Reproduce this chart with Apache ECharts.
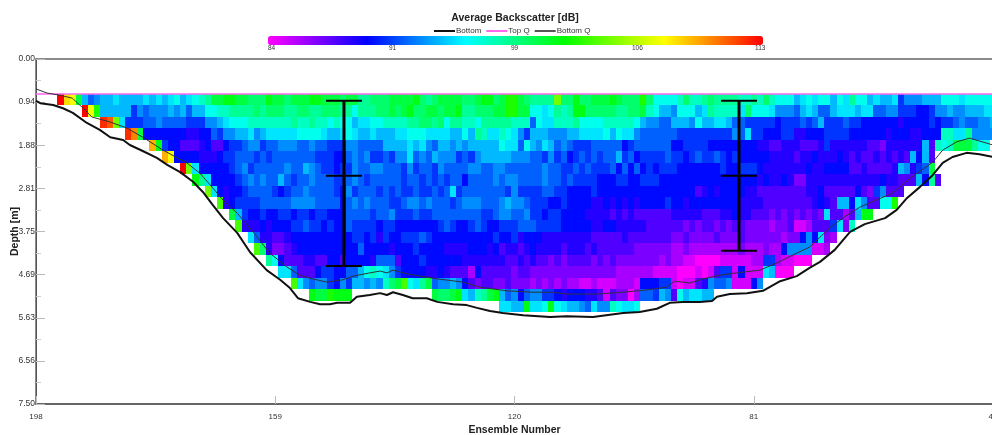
<!DOCTYPE html>
<html><head><meta charset="utf-8">
<style>html,body{margin:0;padding:0;background:#fff}#c{width:992px;height:435px}</style>
<script src="https://cdn.jsdelivr.net/npm/echarts@6/dist/echarts.min.js"></script>
</head><body><div id="c"></div>
<script>
// x tick labels (ensemble numbers) and y depth cell centres
const ensembleTicks=[198,159,120,81,42];
const colourTicks=[84,91,99,106,113];
const cellDepths=[0.885,1.135,1.385,1.635,1.885,2.135,2.385,2.635,2.885,3.135,3.385,3.635,3.885,4.135,4.385,4.635,4.885,5.135,5.385];
// first column index of each depth row (column 0 = ensemble 198, one column per ensemble)
const rowStart=[4,8,11,15,19,21,24,26,28,30,32,33,35,36,38,40,42,45,76];
const row00=[113,108,107,100,94,92,
93,94,94,95,94,94,94,94,95,94,
95,94,95,96,94,95,96,97,98,100,
100,101,101,100,100,99,99,99,101,100,
100,99,100,100,100,101,101,100,100,100,
99,100,100,98,98,99,99,99,100,100,
100,100,101,99,98,99,100,100,100,100,
99,99,100,101,101,99,100,102,102,100,
99,98,98,98,98,104,99,99,101,99,
99,100,100,100,101,100,99,99,99,102,
99,96,96,96,96,97,99,97,97,98,
99,98,98,98,98,97,97,98,97,99,
97,96,96,96,94,95,96,95,96,96,
94,96,95,98,96,96,94,95,94,94,
95,91,93,93,93,94,94,94,96,96,
96,95,96,96,96,96,96];
const row01=[113,107,
102,94,94,94,94,94,91,93,92,93,
93,93,94,93,94,92,94,94,96,96,
97,97,98,98,98,98,99,98,99,99,
99,98,98,99,99,98,98,99,99,99,
98,98,96,98,98,98,99,99,100,99,
100,101,99,99,100,100,99,100,100,101,
98,98,99,99,99,100,100,102,102,100,
100,96,96,95,96,98,97,98,101,101,
99,99,99,99,99,98,98,99,99,100,
97,96,94,94,93,96,96,96,94,95,
98,97,97,97,97,95,99,96,96,96,
95,93,93,93,92,94,95,94,92,92,
94,95,95,95,94,95,95,92,92,93,
93,91,91,91,90,90,91,93,93,94,
93,93,94,94,94,95,95];
const row02=[112,111,104,95,91,91,91,92,92,
93,92,92,92,92,91,91,91,93,93,
94,95,96,96,96,97,97,97,97,97,
97,97,98,97,97,98,97,97,96,97,
96,96,94,95,95,96,96,97,97,97,
97,98,98,99,99,98,99,96,98,98,
97,97,96,98,98,98,98,98,97,97,
97,92,96,95,95,97,97,97,98,96,
96,96,96,97,97,97,97,97,96,94,
93,93,92,92,94,94,94,93,96,94,
94,95,95,94,92,92,91,91,91,91,
91,90,91,91,91,92,91,92,94,91,
91,91,92,91,91,90,90,90,90,90,
90,89,90,90,90,90,91,90,91,91,
92,93,92,92,93,93,94];
const row03=[112,110,100,90,90,
90,90,90,90,90,89,89,90,90,92,
91,93,93,94,94,95,93,94,95,95,
95,95,95,96,96,96,96,95,94,94,
95,96,95,94,94,95,94,94,94,95,
95,96,96,96,95,95,95,95,94,94,
96,94,98,97,95,95,97,96,95,93,
91,94,94,94,93,93,93,94,94,95,
95,95,95,96,94,96,95,95,93,92,
92,92,92,92,92,91,91,91,91,91,
91,91,91,91,93,92,95,91,91,90,
90,90,91,91,89,89,90,90,90,91,
91,91,91,90,90,90,90,90,90,89,
90,90,90,89,89,90,90,90,97,97,
95,95,98,93,93,93,93];
const row04=[109,
101,91,90,90,88,88,88,89,90,88,
88,90,91,91,92,93,93,91,92,92,
93,93,93,92,92,93,92,92,91,91,
91,93,93,92,92,92,92,94,94,94,
94,95,94,95,93,92,94,94,93,94,
93,94,94,94,94,94,96,95,95,92,
96,94,93,95,94,92,93,92,91,91,
91,92,92,92,92,92,90,91,92,92,
92,92,92,92,90,90,91,91,91,91,
90,90,90,90,90,90,90,90,89,89,
88,88,89,89,89,88,88,88,89,91,
89,89,89,89,89,89,88,88,87,89,
89,89,89,89,89,94,88,97,96,97,
100,100,100,98,96,96];
const row05=[109,107,90,90,90,90,89,89,89,
90,91,91,92,92,92,91,92,91,92,
92,92,92,92,92,92,91,91,91,90,
90,92,93,92,93,91,91,92,91,93,
93,95,92,93,92,94,93,93,93,91,
92,91,93,94,94,94,94,94,93,93,
93,92,92,91,93,91,92,90,91,92,
91,92,91,92,92,94,91,92,90,91,
91,91,91,92,91,91,90,91,92,91,
91,92,91,90,91,90,90,90,90,90,
89,89,89,89,88,89,89,90,89,89,
89,90,89,88,89,88,88,89,88,89,
88,89,88,94,90,94,88];
const row06=[113,104,95,90,90,90,
90,90,91,92,93,91,92,92,92,92,
92,93,92,92,94,93,92,91,91,90,
91,91,93,92,92,93,93,92,92,92,
91,93,91,92,92,91,93,92,92,92,
92,93,93,92,92,93,93,92,92,92,
92,92,92,93,92,92,91,91,92,91,
92,91,91,91,92,90,92,90,92,90,
91,90,91,91,91,90,90,90,90,90,
90,90,91,90,90,91,91,91,90,89,
89,89,89,89,89,89,90,89,89,90,
90,90,90,88,88,89,88,88,88,88,
89,94,93,89,91,92,100];
const row07=[101,98,95,90,
90,90,90,91,92,93,92,93,92,92,
94,92,91,92,92,93,92,92,92,91,
91,92,93,92,91,92,92,92,92,92,
91,92,92,91,92,91,92,91,92,92,
90,92,92,92,92,93,92,93,93,92,
92,92,92,93,92,92,91,92,91,91,
91,91,90,90,90,91,91,90,90,91,
91,91,90,90,90,90,90,90,90,90,
90,90,90,90,90,90,90,90,89,90,
89,89,90,89,87,87,89,89,89,89,
89,89,89,89,89,89,89,89,90,89,
89,88,88,88,94,90,98,88];
const row08=[104,95,
90,89,90,90,91,92,92,92,92,91,
90,91,92,92,93,92,92,92,92,91,
90,93,91,92,92,92,91,92,91,92,
91,91,92,91,91,92,91,92,95,91,
92,92,92,92,92,92,92,91,93,91,
91,91,91,92,92,91,91,90,90,90,
90,91,90,90,90,90,90,90,90,90,
90,90,90,90,90,90,90,90,88,89,
90,89,90,90,90,90,89,89,88,88,
88,88,88,88,88,88,89,89,90,88,
88,88,88,88,90,88,87,91,93,88,
88,88];
const row09=[103,89,90,91,91,91,91,92,92,92,
92,92,93,93,93,93,92,92,92,92,
90,92,93,92,93,92,92,92,91,91,
92,93,93,92,93,92,92,92,91,92,
93,93,93,92,92,92,93,94,93,93,
92,91,91,91,90,90,91,90,90,90,
90,89,89,90,89,90,89,90,89,90,
90,90,90,91,90,90,89,90,90,90,
90,90,90,90,90,89,89,89,89,88,
88,88,88,88,88,88,88,89,90,89,
88,94,94,90,95,93,88,88,96,96,102];
const row10=[100,94,91,90,90,91,90,90,
91,91,90,91,91,90,91,91,90,90,
90,92,92,92,92,91,92,92,93,91,
91,91,92,91,91,92,92,92,92,92,
92,92,92,91,91,92,93,93,92,92,
93,91,91,90,91,91,90,90,90,90,
89,89,89,89,88,89,88,89,88,88,
88,88,88,88,89,89,89,89,89,88,
88,88,89,89,90,89,89,88,88,88,
87,88,87,88,87,88,87,88,87,95,
88,88,86,88,94,101,101];
const row11=[103,89,89,89,90,89,90,
90,90,91,91,92,91,91,90,91,90,
90,92,91,91,91,91,90,91,91,90,
90,90,90,90,90,90,91,92,91,90,
90,91,92,91,90,90,91,91,91,92,
92,92,91,91,91,91,90,90,90,90,
90,89,89,90,90,89,89,89,89,89,
88,88,88,88,88,88,87,88,87,88,
88,87,88,87,88,88,87,87,87,87,
86,87,87,88,85,85,86,88,88,88,
91,95,87,97];
const row12=[95,92,89,89,88,
88,89,90,90,90,90,90,90,90,90,
90,90,91,91,90,91,89,91,90,90,
91,91,91,92,91,90,90,90,90,90,
90,90,90,90,90,91,90,90,91,89,
90,90,90,89,89,89,89,89,89,89,
89,88,88,88,88,88,89,88,88,88,
88,88,88,88,87,87,88,87,87,87,
87,88,87,87,87,88,87,87,87,87,
87,87,86,87,87,90,93,90,95,87,
86];
const row13=[103,99,89,87,
87,88,89,90,90,90,90,90,90,90,
90,90,90,92,90,90,90,90,89,90,
90,90,91,90,90,90,90,89,89,89,
89,90,90,90,89,90,88,89,89,88,
89,90,89,89,89,89,88,89,89,89,
88,89,88,88,88,88,88,88,87,87,
87,87,87,87,86,86,87,86,86,86,
86,86,86,86,86,87,86,86,86,87,
86,86,90,93,93,93,93,85,85,86];
const row14=[98,96,
90,88,88,88,89,89,88,88,90,90,
88,90,90,90,90,89,92,92,92,88,
90,90,90,91,90,90,90,90,90,90,
89,89,89,89,89,89,89,88,88,89,
88,89,88,88,87,88,87,88,88,88,
88,87,88,87,88,87,87,87,87,87,
87,87,86,87,86,86,85,85,84,84,
84,84,85,85,85,85,85,86,86,91,
91,86,85,85,84,84,84];
const row15=[95,95,92,88,88,88,90,91,91,90,
90,92,92,94,96,97,96,95,93,91,
90,90,90,90,89,89,90,89,88,88,
88,86,90,88,88,88,88,88,87,88,
88,87,87,87,87,87,87,87,87,87,
87,87,87,87,87,86,86,86,86,86,
86,85,85,85,85,84,84,84,85,84,
85,88,91,91,85,90,85,85,85,95,
94,84,84,84];
const row16=[103,95,93,92,93,93,91,90,
93,91,94,94,93,94,93,97,99,100,
103,96,95,98,100,92,93,93,94,93,
90,88,87,88,88,87,87,88,87,87,
87,86,87,86,87,86,87,86,86,85,
85,86,85,85,85,86,86,86,85,90,
90,90,91,91,85,84,85,85,88,89,
93,92,92,93,85,85,85,90,93];
const row17=[101,100,100,102,101,101,101,
null,null,null,null,null,null,null,null,null,null,null,null,null,
100,99,99,100,101,
95,94,97,98,100,101,94,92,93,90,
92,93,93,91,91,90,89,90,90,90,
89,89,88,85,88,87,87,84,86,92,
92,91,94,93,88,96,94,95,95,94,94];
const row18=[95,95,94,94,
101,95,95,96,101,96,95,94,94,93,
92,95,93,93,97,96,95,95,96];
const rows=[row00,row01,row02,row03,row04,row05,row06,row07,row08,row09,row10,row11,row12,row13,row14,row15,row16,row17,row18];

// bottom track: ensemble, depth
const bottomEns=[198,197.3,195.2,193.6,192,189.7,187.6,185.9,183.8,182.7,180.6,178.3,176.6,174.5,172.4,170.8,169.2,167.5,165.2,163.1,160.4,158.2,156.6,155.3,153.3,151.7,150.1,148.9,146.8,145.7,143.6,141.9,140.8,139.8,138.2,136.6,134.3,132.6,130,127.8,126.1,124,121.9,118.6,114.2,111.5,107.2,102.3,99.6,96.8,94.7,92.6,89.8,87.8,87,84.9,82.1,79.5,76.7,74,71.9,70.2,67.8,65.3,62.9,59.6,57.7,56,53.9,51.8,50.2,48.6,46.3,44.2,42];
const bottomDepth=[0.91,0.96,1.00,1.07,1.17,1.39,1.54,1.70,1.76,1.87,2.00,2.15,2.30,2.46,2.67,2.89,3.17,3.46,3.78,4.20,4.59,4.80,4.98,5.20,5.28,5.33,5.33,5.30,5.30,5.17,5.13,5.09,5.13,5.07,5.13,5.20,5.20,5.28,5.33,5.35,5.41,5.48,5.52,5.57,5.61,5.59,5.61,5.52,5.50,5.43,5.30,5.28,5.28,5.26,5.17,5.11,5.09,5.04,4.83,4.72,4.54,4.41,4.15,3.76,3.59,3.46,3.28,3.02,2.78,2.52,2.26,2.13,2.04,2.07,2.13];
const bottomQEns=[198,196.2,194.4,192.1,190.3,188.9,185.9,183.2,180.6,177.3,173.4,171.3,169.2,167.5,165.2,162.6,159.9,157.1,155,152.9,150.6,148,146.3,143.6,141.9,140.8,139.8,137.5,135.4,132.6,128.4,125.6,121.2,117,113.7,111.5,106.6,102.3,98.4,95.2,93.9,91.4,89.3,86.5,83.8,80,77.2,74.6,71.9,68.6,66.2,63.7,58.3,55.5,51.8,50.2,47.9,45.8,42];
const bottomQDepth=[0.65,0.74,0.78,0.85,1.07,1.26,1.37,1.50,1.70,1.98,2.26,2.48,2.80,3.07,3.35,3.76,4.22,4.52,4.70,4.78,4.85,4.80,4.72,4.65,4.61,4.65,4.59,4.67,4.72,4.78,4.85,4.96,5.04,5.07,5.07,5.11,5.11,5.07,5.02,4.96,4.83,4.87,4.78,4.70,4.65,4.59,4.43,4.26,4.09,3.67,3.43,3.22,2.91,2.59,2.24,1.98,1.80,1.72,1.87];
const topQEns=[198,42];
const topQDepth=[0.76,0.76];
// vertical profile bars: ensemble, top, mid, bottom depth
const profileEns=[147.8,83.4];
const profileTop=[0.91,0.91];
const profileMid=[2.54,2.54];
const profileBot=[4.5,4.17];

const cells=[];
rows.forEach((r,k)=>r.forEach((v,j)=>{ if(v!==null) cells.push([198-(rowStart[k]+j),cellDepths[k],v]); }));
const zip=(a,b)=>a.map((x,i)=>[x,b[i]]);
const fam='"Liberation Sans",Arial,sans-serif';
const chart=echarts.init(document.getElementById('c'),null,{renderer:'canvas'});
chart.setOption({
 animation:false,
 backgroundColor:'#fff',
 title:{text:'Average Backscatter [dB]',left:515,top:13,padding:0,textAlign:'center',textStyle:{fontFamily:fam,fontSize:10.5,fontWeight:'bold',color:'#222'}},
 legend:{data:['Bottom','Top Q','Bottom Q'],left:434,top:27,icon:'rect',itemWidth:21,itemHeight:2,itemGap:5,padding:0,textStyle:{fontFamily:fam,fontSize:8,color:'#333',padding:[0,0,0,-4]}},
 grid:{left:36,top:59,width:957,height:345,show:true,borderColor:'#666',borderWidth:1.5,backgroundColor:'#fff',outerBoundsMode:'none',containLabel:false},
 visualMap:{type:'continuous',seriesIndex:0,dimension:2,min:84,max:113,orient:'horizontal',left:268,top:36,itemWidth:9,itemHeight:495,padding:0,calculable:false,text:null,showLabel:false,
  inRange:{color:['#ff00ff','#0000ff','#00ffff','#00ff00','#ffff00','#ff0000']},textStyle:{fontSize:0}},
 xAxis:{type:'value',inverse:true,min:42,max:198,position:'bottom',
  name:'Ensemble Number',nameLocation:'middle',nameGap:21,nameMoveOverlap:false,nameTextStyle:{fontFamily:fam,fontSize:10.5,fontWeight:'bold',color:'#222'},
  axisLine:{onZero:false,lineStyle:{color:'#666',width:2}},splitLine:{show:false},
  axisTick:{show:true,inside:true,length:8,customValues:ensembleTicks,lineStyle:{color:'#bbb'}},
  axisLabel:{show:true,customValues:ensembleTicks,margin:9,fontFamily:fam,fontSize:8,color:'#333',showMinLabel:true,showMaxLabel:true,hideOverlap:false}},
 yAxis:{type:'value',inverse:true,min:0,max:7.5,interval:0.9375,
  name:'Depth [m]',nameLocation:'middle',nameGap:15,nameMoveOverlap:false,nameTextStyle:{fontFamily:fam,fontSize:10.5,fontWeight:'bold',color:'#222'},
  axisLine:{onZero:false,lineStyle:{color:'#555',width:1}},splitLine:{show:false},
  axisTick:{inside:true,length:9,lineStyle:{color:'#bbb'}},
  minorTick:{show:true,splitNumber:2,length:5,lineStyle:{color:'#ccc'}},
  axisLabel:{margin:1,fontFamily:fam,fontSize:8.5,color:'#333',formatter:v=>v.toFixed(2)}},
 graphic:colourTicks.map((t,i)=>({type:'text',left:[268,389,511,632,755][i],top:45,silent:true,style:{text:String(t),font:'6.5px '+fam,fill:'#333'}})),
 series:[
  {type:'custom',name:'Backscatter',data:cells,encode:{x:0,y:1},silent:true,clip:true,z:2,
   renderItem:function(p,api){
    const c=api.coord([api.value(0),api.value(1)]);
    const s=api.size([1,0.25]);
    const w=Math.abs(s[0]),h=Math.abs(s[1]);
    const x0=Math.round(c[0]-w/2),x1=Math.round(c[0]+w/2),y0=Math.round(c[1]-h/2),y1=Math.round(c[1]+h/2);
    return {type:'rect',shape:{x:x0,y:y0,width:x1-x0,height:y1-y0},style:{fill:api.visual('color'),stroke:null}};
   }},
  {type:'line',name:'Bottom',data:zip(bottomEns,bottomDepth),symbol:'none',z:5,lineStyle:{color:'#111',width:2},itemStyle:{color:'#111'}},
  {type:'line',name:'Top Q',data:zip(topQEns,topQDepth),symbol:'none',z:5,lineStyle:{color:'#ff66ee',width:1.5},itemStyle:{color:'#ff66ee'}},
  {type:'line',name:'Bottom Q',data:zip(bottomQEns,bottomQDepth),symbol:'none',z:5,lineStyle:{color:'#333',width:1},itemStyle:{color:'#555'}},
  {type:'custom',name:'Profile',silent:true,z:6,encode:{x:0,y:[1,2,3]},
   data:profileEns.map((e,i)=>[e,profileTop[i],profileMid[i],profileBot[i]]),
   renderItem:function(p,api){
    const e=api.value(0);const a=api.coord([e,api.value(1)]),m=api.coord([e,api.value(2)]),b=api.coord([e,api.value(3)]);
    const cap=y=>({type:'line',shape:{x1:a[0]-18,y1:y,x2:a[0]+18,y2:y},style:{stroke:'#000',lineWidth:2}});
    return {type:'group',children:[
     {type:'line',shape:{x1:a[0],y1:a[1],x2:b[0],y2:b[1]},style:{stroke:'#000',lineWidth:3}},
     cap(a[1]),cap(m[1]),cap(b[1])]};
   }}
 ]
});
</script></body></html>
